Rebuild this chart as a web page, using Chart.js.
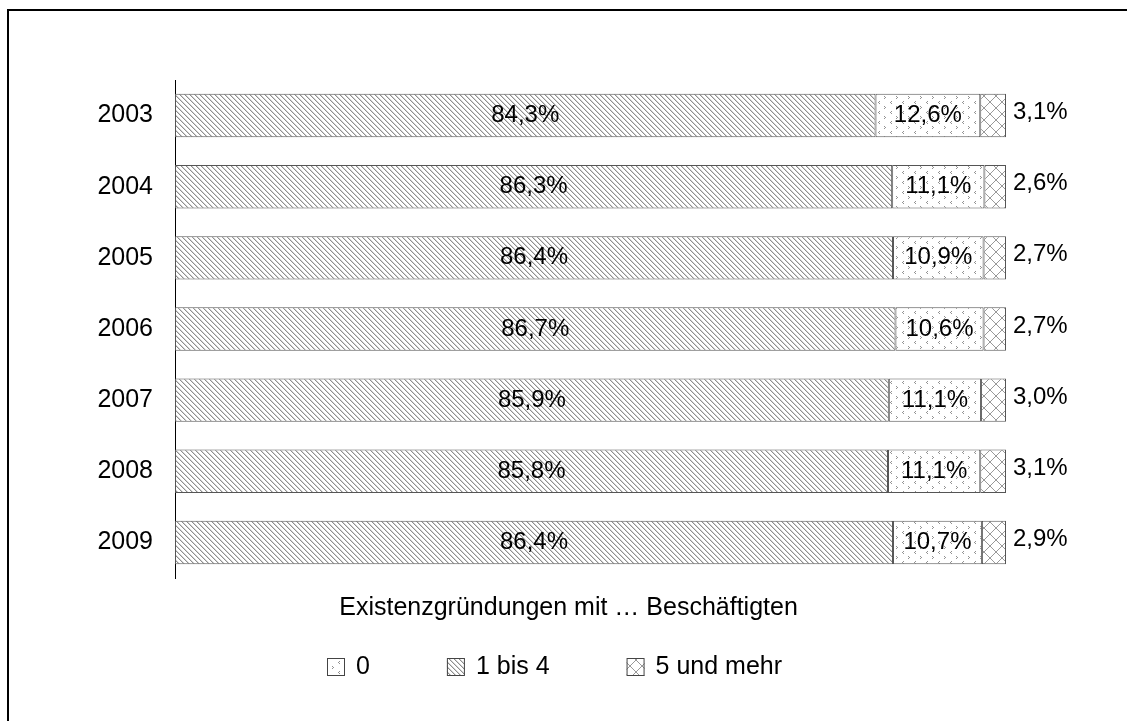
<!DOCTYPE html>
<html>
<head>
<meta charset="utf-8">
<script src="https://cdn.jsdelivr.net/npm/chart.js@4/dist/chart.umd.min.js"></script>
<style>
html, body { margin: 0; padding: 0; background: #fff; }
</style>
</head>
<body>
<canvas id="myChart" width="1127" height="721"></canvas>
<script>

var years = ['2003', '2004', '2005', '2006', '2007', '2008', '2009'];
var shareOneToFour = [84.3, 86.3, 86.4, 86.7, 85.9, 85.8, 86.4];
var shareZero = [12.6, 11.1, 10.9, 10.6, 11.1, 11.1, 10.7];
var shareFivePlus = [3.1, 2.6, 2.7, 2.7, 3.0, 3.1, 2.9];
var legendOrder = ['0', '1 bis 4', '5 und mehr'];
var axisTitle = 'Existenzgründungen mit … Beschäftigten';

var FONT = "'Liberation Sans', Arial, sans-serif";

function makePattern(w, h, draw){
    var c = document.createElement('canvas');
    c.width = w;
    c.height = h;
    var g = c.getContext('2d');
    g.fillStyle = '#fff';
    g.fillRect(0, 0, w, h);
    draw(g);
    return g.createPattern(c, 'repeat');
}

// "\\" hatch for 1 bis 4
var hatch = makePattern(5, 5, function(g){
    for (var i = 0; i < 5; i++) {
        g.fillStyle = '#8e8e8e';
        g.fillRect(i, i, 1, 1);
        g.fillStyle = '#d4d4d4';
        g.fillRect((i + 1) % 5, i, 1, 1);
    }
});

// diamond grid for 5 und mehr
var cross = makePattern(12, 12, function(g){
    g.fillStyle = '#999';
    for (var i = 0; i < 12; i++) {
        g.fillRect(i, i, 1, 1);
        g.fillRect(11 - i, i, 1, 1);
    }
});

// scattered small chevrons for 0
var dots = makePattern(12, 10, function(g){
    g.fillStyle = '#929292';
    g.fillRect(3, 1, 1, 1); g.fillRect(2, 2, 1, 1); g.fillRect(3, 3, 1, 1);
    g.fillRect(8, 6, 1, 1); g.fillRect(9, 7, 1, 1); g.fillRect(8, 8, 1, 1);
});

function fmt(v){
    return v.toFixed(1).replace('.', ',') + '%';
}

var segmentLabels = {
    id: 'segmentLabels',
    afterDatasetsDraw: function(chart){
        var ctx = chart.ctx;
        ctx.save();
        ctx.font = '24px ' + FONT;
        ctx.fillStyle = '#000';
        ctx.textBaseline = 'middle';
        chart.data.datasets.forEach(function(ds, di){
            chart.getDatasetMeta(di).data.forEach(function(bar, i){
                var txt = fmt(ds.data[i]);
                if (ds.labelOutside) {
                    ctx.textAlign = 'left';
                    ctx.fillText(txt, bar.x + 7, bar.y - 3);
                } else {
                    ctx.textAlign = 'center';
                    ctx.fillText(txt, (bar.x + bar.base) / 2, bar.y);
                }
            });
        });
        ctx.restore();
    }
};

var bottomBlock = {
    id: 'bottomBlock',
    afterDraw: function(chart){
        var ctx = chart.ctx;
        var box = 18, gapText = 11, gapItem = 77;
        ctx.save();
        ctx.textBaseline = 'middle';

        // axis caption
        ctx.font = '25px ' + FONT;
        ctx.fillStyle = '#000';
        ctx.textAlign = 'center';
        ctx.fillText(axisTitle, chart.width / 2 + 5, chart.chartArea.bottom + 30);

        // legend
        var items = legendOrder.map(function(name){
            var ds = chart.data.datasets.filter(function(d){ return d.label === name; })[0];
            return {name: name, fill: ds.backgroundColor, w: ctx.measureText(name).width};
        });
        var total = 0;
        items.forEach(function(it, k){
            total += box + gapText + it.w + (k < items.length - 1 ? gapItem : 0);
        });
        var x = Math.round(chart.width / 2 - 9 - total / 2);
        var yc = chart.height - 54;
        ctx.textAlign = 'left';
        items.forEach(function(it){
            ctx.fillStyle = it.fill;
            ctx.fillRect(x, yc - box / 2, box, box);
            ctx.strokeStyle = '#444';
            ctx.lineWidth = 1;
            ctx.strokeRect(x + 0.5, yc - box / 2 + 0.5, box - 1, box - 1);
            ctx.fillStyle = '#000';
            ctx.fillText(it.name, x + box + gapText, yc);
            x += box + gapText + it.w + gapItem;
        });

        // outer frame
        ctx.strokeStyle = '#000';
        ctx.lineWidth = 2;
        ctx.strokeRect(8, 10, chart.width + 20, chart.height + 20);
        ctx.restore();
    }
};

document.addEventListener('DOMContentLoaded', drawChart);

function drawChart(){
    var ctx = document.getElementById('myChart').getContext('2d');
    var common = {borderColor: '#555', borderWidth: 1, borderSkipped: false,
                  barPercentage: 0.61, categoryPercentage: 1};
    new Chart(ctx, {
        type: 'bar',
        data: {
            labels: years,
            datasets: [
                Object.assign({label: '1 bis 4', data: shareOneToFour, backgroundColor: hatch}, common),
                Object.assign({label: '0', data: shareZero, backgroundColor: dots}, common),
                Object.assign({label: '5 und mehr', data: shareFivePlus, backgroundColor: cross, labelOutside: true}, common)
            ]
        },
        options: {
            indexAxis: 'y',
            responsive: false,
            animation: false,
            layout: {padding: {top: 80, right: 121, left: 0, bottom: 143}},
            scales: {
                x: {stacked: true, min: 0, max: 100, display: false},
                y: {
                    stacked: true,
                    grid: {display: false, drawTicks: false},
                    border: {display: true, color: '#000', width: 1},
                    ticks: {color: '#000', font: {size: 25, family: FONT}, padding: 22},
                    afterFit: function(s){ s.width = 175; }
                }
            },
            plugins: {
                legend: {display: false},
                tooltip: {enabled: false}
            }
        },
        plugins: [segmentLabels, bottomBlock]
    });
}
</script>
</body>
</html>
